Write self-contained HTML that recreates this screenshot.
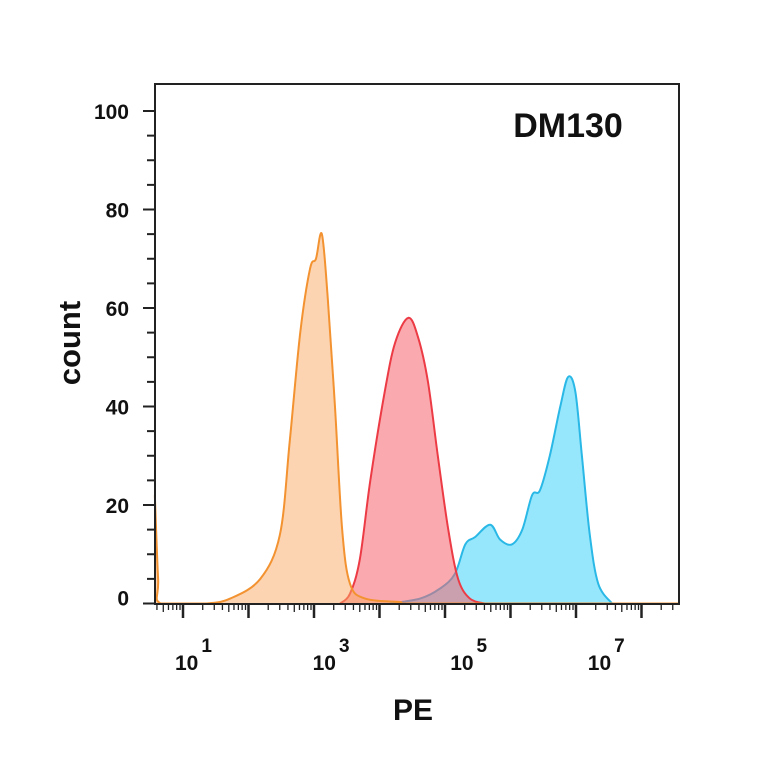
<!DOCTYPE html>
<html><head><meta charset="utf-8"><style>
html,body{margin:0;padding:0;background:#fff;}
svg{display:block;font-family:"Liberation Sans",Arial,sans-serif;}
</style></head><body>
<svg id="chart" width="764" height="764" viewBox="0 0 764 764">
<rect x="0" y="0" width="764" height="764" fill="#fff"/>
<g id="series"></g>
<rect x="155" y="84" width="524" height="520" fill="none" stroke="#222" stroke-width="2"/>
<g id="axes"></g>
<text x="568" y="137" font-size="34" font-weight="bold" text-anchor="middle" fill="#111">DM130</text>
<text transform="translate(80,343) rotate(-90)" font-size="31" font-weight="bold" text-anchor="middle" fill="#111">count</text>
<text x="413" y="720" font-size="30" font-weight="bold" text-anchor="middle" fill="#111">PE</text>
</svg>
<script>
const yTicks = [0, 20, 40, 60, 80, 100];
const xDecades = [1, 3, 5, 7];
const orangeX = [0.57, 0.62, 0.66, 1.34, 1.72, 2.18, 2.48, 2.63, 2.79, 2.94, 3.03, 3.12, 3.21, 3.32, 3.43, 3.55, 3.78, 4.31, 4.62, 8.56];
const orangeY = [22, 5, 0, 0, 1, 5, 14, 33, 55, 68, 70, 75, 62, 40, 15, 4, 1, 0.3, 0, 0];
const redX = [3.40, 3.55, 3.70, 3.86, 4.08, 4.24, 4.44, 4.59, 4.74, 4.89, 5.05, 5.20, 5.38, 5.61];
const redY = [0, 2, 9, 25, 43, 53, 58, 54, 45, 30, 15, 5, 1, 0];
const blueX = [4.16, 4.62, 4.92, 5.15, 5.31, 5.46, 5.69, 5.84, 6.02, 6.18, 6.33, 6.45, 6.60, 6.76, 6.88, 6.99, 7.09, 7.21, 7.34, 7.55];
const blueY = [0, 1, 3, 6, 12, 13.5, 16, 13, 12, 15, 22, 23, 30, 40, 46, 43, 30, 14, 4, 0];

const NS = "http://www.w3.org/2000/svg";
const xScale = v => 183 + (v - 1) * 65.5;
const labelScale = v => 175 + (v - 1) * 68.8;
const yScale = v => 603.5 - v * 4.925;
const series = document.getElementById('series');
const axes = document.getElementById('axes');

function mk(tag, attrs, parent) {
  const e = document.createElementNS(NS, tag);
  for (const k in attrs) e.setAttribute(k, attrs[k]);
  parent.appendChild(e);
  return e;
}
function smoothPath(xs, ys) {
  const pts = xs.map((x, i) => [xScale(x), yScale(ys[i])]);
  let d = `M${pts[0][0]},${pts[0][1]}`;
  for (let i = 0; i < pts.length - 1; i++) {
    const p0 = pts[Math.max(0, i - 1)], p1 = pts[i], p2 = pts[i + 1], p3 = pts[Math.min(pts.length - 1, i + 2)];
    const c1 = [p1[0] + (p2[0] - p0[0]) / 6, p1[1] + (p2[1] - p0[1]) / 6];
    const c2 = [p2[0] - (p3[0] - p1[0]) / 6, p2[1] - (p3[1] - p1[1]) / 6];
    d += ` C${c1[0]},${Math.min(c1[1], yScale(0))} ${c2[0]},${Math.min(c2[1], yScale(0))} ${p2[0]},${p2[1]}`;
  }
  return d;
}
function drawSeries(xs, ys, fill, stroke, name) {
  const line = smoothPath(xs, ys);
  const area = line + ` L${xScale(xs[xs.length - 1])},${yScale(0)} L${xScale(xs[0])},${yScale(0)} Z`;
  const a = mk('path', {d: area, fill: fill, stroke: 'none'}, series);
  
  
  const l = mk('path', {d: line, fill: 'none', stroke: stroke, 'stroke-width': 2}, series);
  
  
}
drawSeries(blueX, blueY, 'rgba(80,215,250,0.6)', '#2ab8e6', 'blue-histogram');
drawSeries(redX, redY, 'rgba(245,100,110,0.55)', '#ec3b45', 'red-histogram');
drawSeries(orangeX, orangeY, 'rgba(250,170,100,0.5)', '#f39230', 'orange-histogram');

for (let v = 0; v <= 100; v += 5) {
  const major = yTicks.includes(v);
  const t = mk('line', {x1: major ? 143 : 147, x2: 155, y1: yScale(v), y2: yScale(v), stroke: '#222', 'stroke-width': 2}, axes);
  
  
}
yTicks.forEach(v => {
  const t = mk('text', {x: 129, y: yScale(v) + 8 - (v === 0 ? 6 : 0), 'font-size': 21, 'font-weight': 'bold', 'text-anchor': 'end', fill: '#111'}, axes);
  t.textContent = v;
  
  
});
for (let d = 0; d <= 8; d++) {
  for (let m = 1; m <= 9; m++) {
    const v = d + Math.log10(m);
    const x = xScale(v);
    if (x < 156 || x > 679) continue;
    const major = m === 1;
    const t = mk('line', {x1: x, x2: x, y1: 604, y2: major ? 618 : (m === 5 ? 612 : 610), stroke: '#222', 'stroke-width': major ? 2.5 : 1.3}, axes);
    
    
  }
}
xDecades.forEach(p => {
  const t = mk('text', {x: labelScale(p), y: 670, 'font-size': 21, 'font-weight': 'bold', fill: '#111'}, axes);
  
  
  t.textContent = '10';
  const s = mk('tspan', {dx: 3, dy: -18, 'font-size': 19}, t);
  s.textContent = p;
});
</script>
</body></html>
